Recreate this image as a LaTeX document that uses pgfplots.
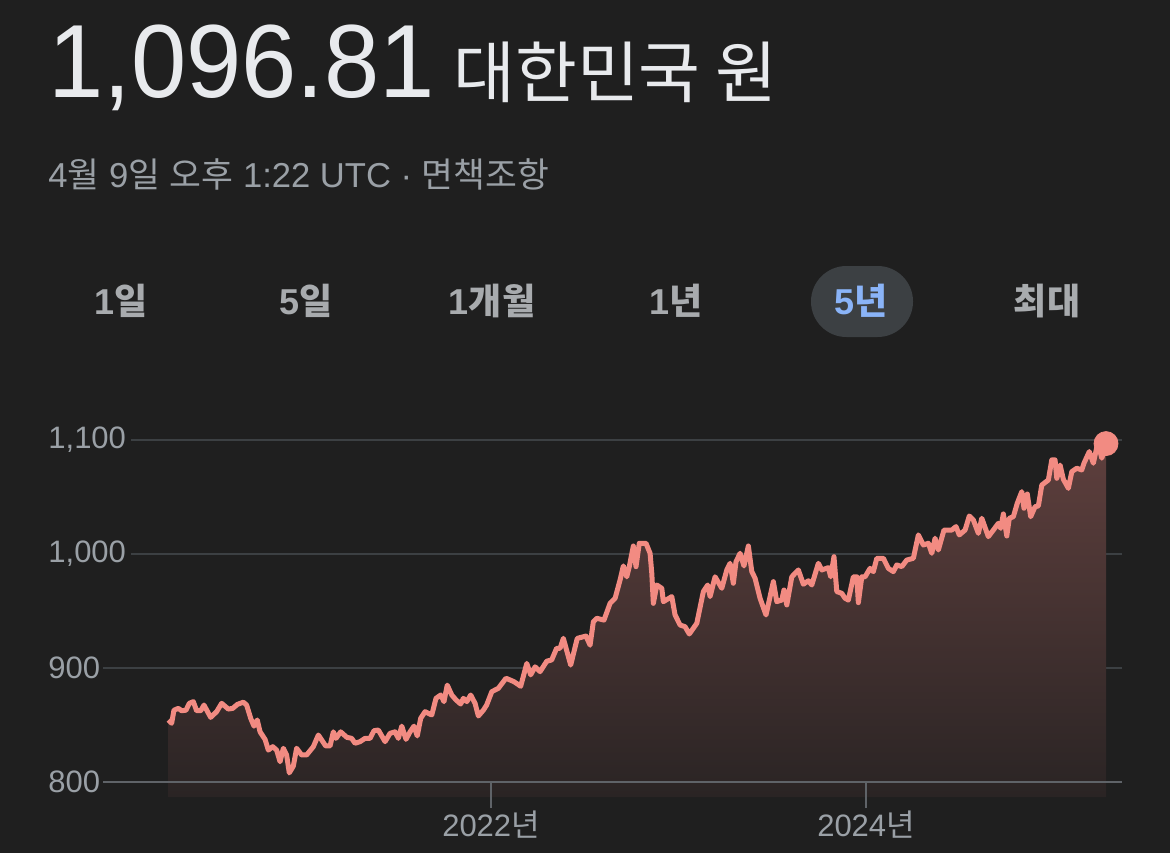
\documentclass[border=0pt]{standalone}
\usepackage{pgfplots}
\pgfplotsset{compat=1.18}
\usepackage{pgfplotstable}
\usepackage{fontspec}
\setmainfont{Liberation Sans}
\newfontfamily\kr{Noto Sans CJK KR}

\definecolor{bgc}{HTML}{1F1F1F}
\definecolor{titlec}{HTML}{E8EAED}
\definecolor{subc}{HTML}{9AA0A6}
\definecolor{btnc}{HTML}{A8ABAE}
\definecolor{pillc}{HTML}{3C4043}
\definecolor{selc}{HTML}{8AB4F8}
\definecolor{gridc}{HTML}{3C4043}
\definecolor{basec}{HTML}{5F6368}
\definecolor{linec}{HTML}{F28B82}
\definecolor{filltop}{HTML}{5E3F3D}
\definecolor{fillbot}{HTML}{2A2424}

% KRW per 1 unit, x = months since Jan 2020
\pgfplotstableread{
m v
3.35 854.4
3.56 851.5
3.71 863
3.99 864.6
4.20 862.5
4.48 863
4.69 869
4.95 870.5
5.16 862.5
5.42 862.5
5.63 867.5
6.06 856.7
6.44 861.7
6.76 869
7.19 864
7.47 864.6
7.76 868
8.15 870
8.36 867.5
8.62 855.9
8.83 849
9.04 854.4
9.22 844
9.54 837.4
9.75 828
10.03 831
10.28 828
10.50 817.8
10.71 829.6
10.92 823.7
11.09 808
11.35 814
11.56 829.6
11.88 823.7
12.20 823.7
12.63 831
12.95 841.2
13.42 831.6
13.70 831.6
13.91 844
14.08 838.3
14.38 844
14.77 839.2
15.08 838.3
15.30 834
15.62 835.4
15.94 838.3
16.26 838.3
16.51 845
16.79 845.6
17.22 835.4
17.54 842.7
17.86 844
18.07 838.3
18.29 849
18.56 837.4
18.82 844
19.07 849
19.28 840.4
19.50 855.9
19.78 861.7
20.21 858.8
20.48 873.4
20.78 876.3
20.99 870.5
21.20 885
21.49 876.3
21.76 872
22.06 868.4
22.23 873.4
22.45 870.5
22.70 876.3
22.98 869
23.19 857.9
23.51 863
23.72 867.5
24.05 879.2
24.47 882.2
24.96 891
25.47 888
25.90 884
26.29 904
26.54 894
26.82 901
27.14 896.8
27.57 906
27.88 907
28.20 917.3
28.42 917.3
28.63 926
29.10 902.6
29.52 926
30.08 928
30.34 920
30.55 940.6
30.77 943.6
31.23 942
31.62 956.7
31.94 961.1
32.26 977.2
32.47 989.5
32.69 980
32.85 988.9
33.11 1007
33.28 988.9
33.49 1009.4
33.92 1009.4
34.18 1000.6
34.29 983
34.39 956.7
34.61 972.8
34.93 969.9
35.03 958.2
35.57 962.6
35.78 946.5
36.10 937.7
36.42 936.2
36.69 929.8
37.17 939.2
37.59 967
37.87 972.8
38.02 962.6
38.34 980
38.77 969.9
39.09 986
39.30 991.8
39.51 974.3
39.68 993.2
39.94 1000.6
40.19 989.5
40.47 1007
40.69 984.5
40.90 978.7
41.22 961.1
41.60 946.5
42.07 975.7
42.29 958.2
42.61 959.6
42.75 968.4
42.93 955.3
43.25 980
43.67 986
43.99 973.5
44.31 976.5
44.53 972.8
44.95 991.8
45.17 986
45.59 988
45.74 980
45.95 997.6
46.13 967
46.45 965.5
46.66 961.1
46.87 959.6
47.19 980
47.41 980
47.51 957.3
47.73 980
47.94 980
48.26 987.4
48.47 984.5
48.69 996.2
49.11 996.2
49.43 987.4
49.75 984.5
49.97 990.4
50.29 988.9
50.61 994.7
51.03 996.2
51.35 1016.7
51.67 1007.9
51.99 1009.4
52.21 1000.6
52.42 1013.8
52.63 1003.5
52.99 1021
53.49 1021
53.76 1024
53.97 1016.7
54.34 1021
54.61 1033.3
54.87 1029.8
55.19 1018.1
55.41 1031.3
55.83 1015.2
56.15 1021
56.47 1026.9
56.62 1022.5
56.79 1035.1
57.01 1015.8
57.17 1031.3
57.43 1032.7
57.68 1044.5
57.97 1054.7
58.11 1040.1
58.32 1052.6
58.54 1032.7
58.82 1041.5
59.03 1042.1
59.25 1060.5
59.67 1064.9
59.89 1082.5
60.10 1082.5
60.21 1066.4
60.42 1078
60.63 1065.5
60.95 1057.6
61.17 1072.2
61.49 1075.2
61.81 1073.7
61.95 1079.6
62.29 1089.8
62.55 1079.6
62.77 1093.6
62.93 1092.7
63.09 1084
63.36 1096.81
}\krw

\begin{document}
\begin{tikzpicture}
\fill[bgc] (0,0) rectangle (585pt,426.5pt);

% header
\node[anchor=base west, inner sep=0pt, text=titlec] at (24pt,377.5pt)
  {\scalebox{0.955}[1]{\fontsize{52}{52}\selectfont 1,096.81}};
\node[anchor=base west, inner sep=0pt, text=titlec] at (226.5pt,377.5pt)
  {\kr\fontsize{33.6}{34}\selectfont 대한민국 원};
\node[anchor=base west, inner sep=0pt, text=subc] at (24pt,332.5pt)
  {\fontsize{17.3}{18}\selectfont 4{\kr 월} 9{\kr 일} {\kr 오후} 1:22 UTC · {\kr 면책조항}};

% range buttons
\fill[pillc, rounded corners=17.7pt] (405.5pt,258pt) rectangle (456.5pt,293.5pt);
\foreach \x/\t in {60.5/1{\kr 일}, 153/5{\kr 일}, 246/1{\kr 개월}, 338/1{\kr 년}, 523.5/{\kr 최대}}
  \node[anchor=base, inner sep=0pt, text=btnc] at (\x pt,269.5pt)
    {\fontsize{18}{18}\selectfont\bfseries \t};
\node[anchor=base, inner sep=0pt, text=selc] at (430.5pt,269.5pt)
  {\fontsize{18}{18}\selectfont\bfseries 5{\kr 년}};

\begin{axis}[
  at={(70pt,35.5pt)}, anchor=south west,
  scale only axis, width=491pt, height=181pt,
  clip=false,
  xmin=1.536, xmax=64.384,
  ymin=800, ymax=1117.5,
  axis line style={draw=none},
  tick style={draw=none},
  ytick={800,900,1000,1100},
  yticklabels={800,900,{1,000},{1,100}},
  yticklabel style={anchor=west, inner sep=0pt, xshift=-46pt,
    font=\fontsize{15.5}{16}\selectfont, text=subc},
  xtick={24,48},
  xticklabels={2022{\kr 년},2024{\kr 년}},
  xticklabel style={anchor=base, inner sep=0pt, yshift=-27pt,
    font=\fontsize{15.5}{16}\selectfont, text=subc},
]
  % grid lines start just right of each label
  \draw[gridc, line width=1pt] (axis cs:0.96,1100) -- (axis cs:64.384,1100);
  \draw[gridc, line width=1pt] (axis cs:0.96,1000) -- (axis cs:64.384,1000);
  \draw[gridc, line width=1pt] (axis cs:-0.832,900) -- (axis cs:64.384,900);

  \addplot[draw=none, top color=filltop, bottom color=fillbot]
    table {\krw} -- (axis cs:63.36,786.8) -- (axis cs:3.35,786.8) -- cycle;

  \draw[basec, line width=1.1pt] (axis cs:-0.832,800) -- (axis cs:64.384,800);
  \draw[basec, line width=1pt] (axis cs:24,800) -- ++(0pt,-13pt);
  \draw[basec, line width=1pt] (axis cs:48,800) -- ++(0pt,-13pt);

  \addplot[linec, line width=2.5pt, line join=round] table {\krw};
  \addplot[only marks, mark=*, mark size=6pt, linec] coordinates {(63.36,1096.81)};
\end{axis}
\end{tikzpicture}
\end{document}
